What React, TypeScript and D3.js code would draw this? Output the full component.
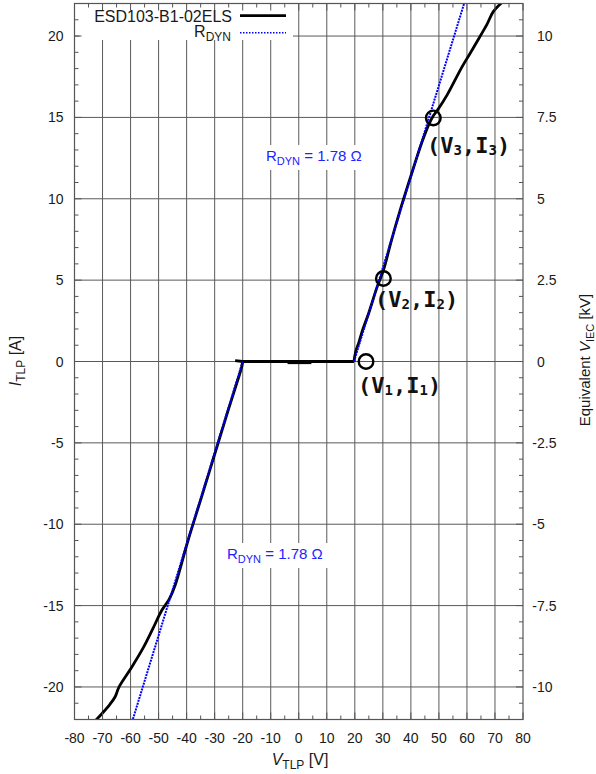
import { useRef, useEffect } from "react";
import * as d3 from "d3";

// Axis ticks
const X_TICKS = [-80, -70, -60, -50, -40, -30, -20, -10, 0, 10, 20, 30, 40, 50, 60, 70, 80];
const Y_TICKS = [-20, -15, -10, -5, 0, 5, 10, 15, 20];
const Y2_TICKS = [-10, -7.5, -5, -2.5, 0, 2.5, 5, 7.5, 10];

// Measured TLP curve (V, I)
const DEVICE_OFF: [number, number][] = [[-22.7, 0.05], [-20, 0], [-10, 0], [0, 0], [10, 0], [19.7, 0]];
const DEVICE_OFF_THICK: [number, number][] = [[-4, -0.05], [4.5, -0.05]];
const DEVICE_POS: [number, number][] = [
  [19.7, 0], [20.3, 0.6], [21.5, 1.2], [22.7, 1.9], [25, 3.0], [28, 4.6], [30.2, 5.6],
  [33, 7.4], [36, 9.2], [40, 11.4], [44, 13.5], [46.5, 14.6], [48, 15.1], [49.5, 15.45],
  [53, 16.4], [58.1, 18.06], [61, 18.9], [64.4, 19.9], [67.1, 20.7], [69.4, 21.5], [72.4, 22.05],
];
const DEVICE_NEG: [number, number][] = [
  [-20, 0], [-20.3, -0.3], [-21.5, -1], [-25, -2.9], [-30, -5.7], [-35, -8.5], [-39.5, -11],
  [-44.2, -13.8], [-46.2, -14.6], [-48.9, -15.3], [-52, -16.4], [-55.5, -17.6], [-60, -18.9],
  [-64.1, -20], [-65.5, -20.6], [-67.3, -21.05], [-70, -21.6], [-72.7, -22.1],
];

// R_DYN fit lines
const RDYN_POS: [number, number][] = [[19.7, 0], [59, 22]];
const RDYN_NEG: [number, number][] = [[-20, 0], [-59.2, -22]];

// Marked points
const POINTS = [
  { v: 24.0, i: 0, sub: "1", lx: 358, ly: 393 },
  { v: 30.2, i: 5.1, sub: "2", lx: 375, ly: 306.5 },
  { v: 48.0, i: 14.97, sub: "3", lx: 427, ly: 153 },
];

const RDYN_LABELS = [
  { x: 266, y: 161 },
  { x: 227, y: 559 },
];

const FONT = "'Liberation Sans', Arial, sans-serif";

export default function App() {
  const svgRef = useRef<SVGSVGElement>(null);

  useEffect(() => {
    if (!svgRef.current) return;
    const svg = d3.select(svgRef.current);
    svg.selectAll("*").remove();

    const W = 596;
    const H = 774;
    const left = 74.5, right = 523, top = 3.5, bottom = 719.5;

    const x = d3.scaleLinear().domain([-80, 80]).range([left, right]);
    const y = d3.scaleLinear().domain([-22, 22]).range([bottom, top]);
    const y2 = d3.scaleLinear().domain([-11, 11]).range([bottom, top]);

    svg.attr("width", W).attr("height", H);
    svg.append("rect").attr("width", W).attr("height", H).attr("fill", "#fff");

    const gridColor = "#5a5a5a";

    // Grid
    X_TICKS.slice(1, -1).forEach((t) => {
      svg.append("line").attr("x1", x(t)).attr("x2", x(t)).attr("y1", top).attr("y2", bottom)
        .attr("stroke", gridColor).attr("stroke-width", 1);
    });
    Y_TICKS.forEach((t) => {
      svg.append("line").attr("x1", left).attr("x2", right).attr("y1", y(t)).attr("y2", y(t))
        .attr("stroke", gridColor).attr("stroke-width", 1);
    });

    // White boxes behind legend and labels
    svg.append("rect").attr("x", left + 5).attr("y", top + 1).attr("width", 293 - left - 5).attr("height", 40 - top - 1)
      .attr("fill", "#fff");
    RDYN_LABELS.forEach((l) => {
      svg.append("rect").attr("x", l.x - 4).attr("y", l.y - 16).attr("width", 114).attr("height", 25)
        .attr("fill", "#fff");
    });

    // Curves
    svg.append("clipPath").attr("id", "plot-clip")
      .append("rect").attr("x", left).attr("y", top).attr("width", right - left).attr("height", bottom - top);
    const plot = svg.append("g").attr("clip-path", "url(#plot-clip)");
    const line = d3.line<[number, number]>().x((d) => x(d[0])).y((d) => y(d[1]));
    const smooth = d3.line<[number, number]>().x((d) => x(d[0])).y((d) => y(d[1]))
      .curve(d3.curveCatmullRom.alpha(0.5));

    plot.append("path").attr("d", line(DEVICE_OFF)).attr("fill", "none")
      .attr("stroke", "#000").attr("stroke-width", 2.8);
    [DEVICE_POS, DEVICE_NEG].forEach((data) => {
      plot.append("path").attr("d", smooth(data)).attr("fill", "none")
        .attr("stroke", "#000").attr("stroke-width", 2.8).attr("stroke-linejoin", "round");
    });
    plot.append("path").attr("d", line(DEVICE_OFF_THICK)).attr("fill", "none")
      .attr("stroke", "#000").attr("stroke-width", 3.6);

    [RDYN_POS, RDYN_NEG].forEach((data) => {
      plot.append("path").attr("d", line(data)).attr("fill", "none")
        .attr("stroke", "#0000ff").attr("stroke-width", 2).attr("stroke-dasharray", "2,1");
    });

    // Marked points
    POINTS.forEach((p) => {
      svg.append("circle").attr("cx", x(p.v)).attr("cy", y(p.i)).attr("r", 7.3)
        .attr("fill", "none").attr("stroke", "#000").attr("stroke-width", 2.4);
      const t = svg.append("text").attr("x", p.lx).attr("y", p.ly)
        .style("font-family", "'DejaVu Sans Mono', monospace").style("font-weight", "700")
        .style("font-size", "22px").style("fill", "#111");
      t.append("tspan").text("(V");
      t.append("tspan").attr("dy", 2).style("font-size", "14px").text(p.sub);
      t.append("tspan").attr("dy", -2).text(",I");
      t.append("tspan").attr("dy", 2).style("font-size", "14px").text(p.sub);
      t.append("tspan").attr("dy", -2).text(")");
    });

    // R_DYN labels
    RDYN_LABELS.forEach((l) => {
      const t = svg.append("text").attr("x", l.x).attr("y", l.y)
        .style("font-family", FONT).style("font-size", "15px").style("fill", "#2222ff");
      t.append("tspan").text("R");
      t.append("tspan").attr("dy", 4).style("font-size", "11px").text("DYN");
      t.append("tspan").attr("dy", -4).text(" = 1.78 \u03A9");
    });

    // Border
    svg.append("rect").attr("x", left).attr("y", top).attr("width", right - left).attr("height", bottom - top)
      .attr("fill", "none").attr("stroke", "#555").attr("stroke-width", 1.2);

    // Ticks
    const tick = (x1: number, y1: number, x2: number, y2v: number) =>
      svg.append("line").attr("x1", x1).attr("y1", y1).attr("x2", x2).attr("y2", y2v)
        .attr("stroke", "#555").attr("stroke-width", 1);
    d3.range(-80, 81, 5).forEach((t) => {
      const len = t % 10 === 0 ? 7 : 4;
      tick(x(t), bottom, x(t), bottom - len);
      tick(x(t), top, x(t), top + len);
    });
    d3.range(-22, 23, 1).forEach((t) => {
      const len = t % 5 === 0 ? 7 : 4;
      tick(left, y(t), left + len, y(t));
    });
    d3.range(-11, 11.01, 0.5).forEach((t) => {
      const len = Math.abs(t % 2.5) < 1e-9 ? 7 : 4;
      tick(right, y2(t), right - len, y2(t));
    });

    // Tick labels
    const labelColor = "#1a1a1a";
    X_TICKS.forEach((t) => {
      svg.append("text").attr("x", x(t)).attr("y", 742.5).attr("text-anchor", "middle")
        .style("font-family", FONT).style("font-size", "14px").style("fill", labelColor)
        .text(String(t));
    });
    Y_TICKS.forEach((t) => {
      svg.append("text").attr("x", 63.5).attr("y", y(t) + 5).attr("text-anchor", "end")
        .style("font-family", FONT).style("font-size", "14px").style("fill", labelColor)
        .text(String(t));
    });
    Y2_TICKS.forEach((t) => {
      svg.append("text").attr("x", t < 0 ? 532.3 : 537).attr("y", y2(t) + 5).attr("text-anchor", "start")
        .style("font-family", FONT).style("font-size", "14px").style("fill", labelColor)
        .text(String(t));
    });

    // Axis titles
    const xt = svg.append("text").attr("x", 300).attr("y", 765).attr("text-anchor", "middle")
      .style("font-family", FONT).style("font-size", "16px").style("fill", labelColor);
    xt.append("tspan").style("font-style", "italic").text("V");
    xt.append("tspan").attr("dy", 4).style("font-size", "12px").text("TLP");
    xt.append("tspan").attr("dy", -4).text(" [V]");

    const yt = svg.append("text").attr("transform", "translate(21,361) rotate(-90)").attr("text-anchor", "middle")
      .style("font-family", FONT).style("font-size", "16px").style("fill", labelColor);
    yt.append("tspan").style("font-style", "italic").text("I");
    yt.append("tspan").attr("dy", 4).style("font-size", "12px").text("TLP");
    yt.append("tspan").attr("dy", -4).text(" [A]");

    const y2t = svg.append("text").attr("transform", "translate(590,360) rotate(-90)").attr("text-anchor", "middle")
      .style("font-family", FONT).style("font-size", "15px").style("fill", labelColor);
    y2t.append("tspan").text("Equivalent ");
    y2t.append("tspan").style("font-style", "italic").text("V");
    y2t.append("tspan").attr("dy", 4).style("font-size", "11px").text("IEC");
    y2t.append("tspan").attr("dy", -4).text(" [kV]");

    // Legend
    svg.append("text").attr("x", 232).attr("y", 21.5).attr("text-anchor", "end")
      .style("font-family", FONT).style("font-size", "16px").style("fill", labelColor)
      .text("ESD103-B1-02ELS");
    svg.append("line").attr("x1", 240).attr("x2", 286).attr("y1", 15.7).attr("y2", 15.7)
      .attr("stroke", "#000").attr("stroke-width", 2.8);
    const lg = svg.append("text").attr("x", 231).attr("y", 37).attr("text-anchor", "end")
      .style("font-family", FONT).style("font-size", "16px").style("fill", labelColor);
    lg.append("tspan").text("R");
    lg.append("tspan").attr("dy", 4).style("font-size", "12px").text("DYN");
    svg.append("line").attr("x1", 240).attr("x2", 286).attr("y1", 32.7).attr("y2", 32.7)
      .attr("stroke", "#0000ff").attr("stroke-width", 1.6).attr("stroke-dasharray", "1.5,1.5");

    return () => {
      svg.selectAll("*").remove();
    };
  }, []);

  return (
    <div style={{ position: "absolute", left: 0, top: 0 }}>
      <svg ref={svgRef} style={{ display: "block" }} />
    </div>
  );
}
